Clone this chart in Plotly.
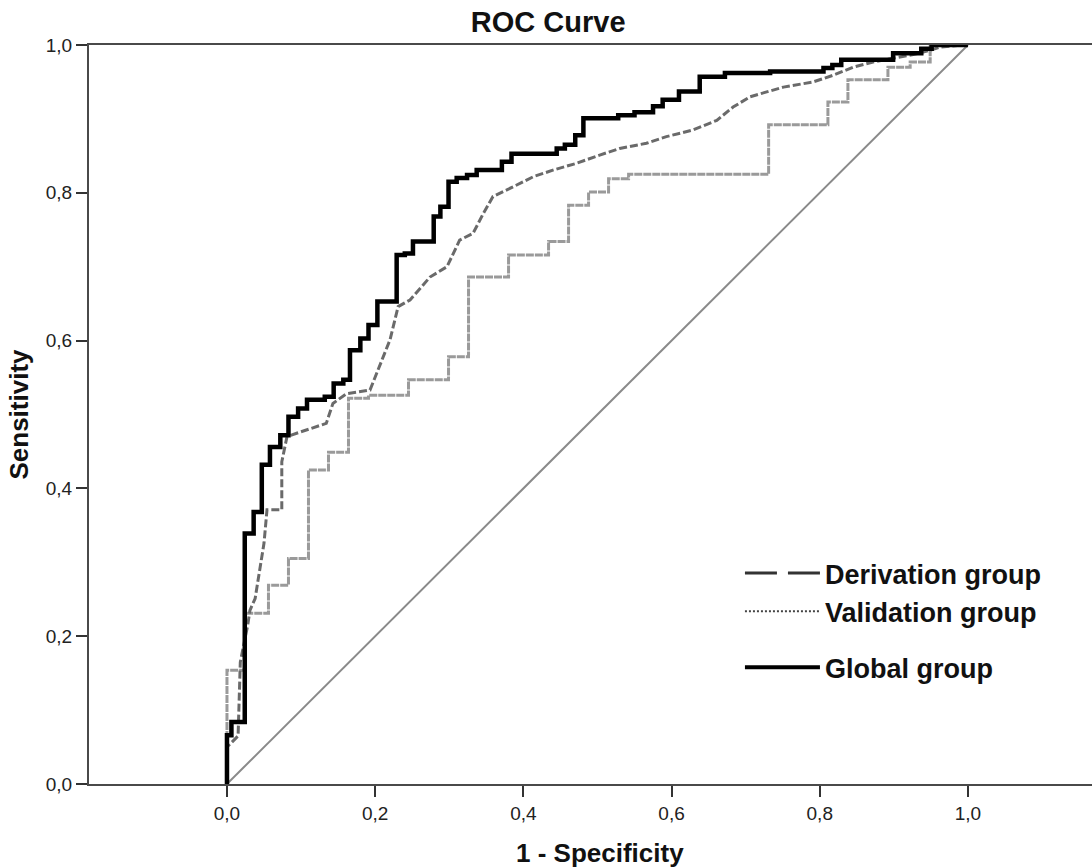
import plotly.graph_objects as go

# ---- data ----
global_fpr = [0, 0, 0.006, 0.024, 0.036, 0.047, 0.058, 0.072, 0.083, 0.096,
              0.108, 0.132, 0.144, 0.157, 0.166, 0.180, 0.191, 0.203, 0.229, 0.240,
              0.251, 0.279, 0.288, 0.299, 0.310, 0.324, 0.337, 0.371, 0.384, 0.445,
              0.456, 0.470, 0.481, 0.528, 0.550, 0.575, 0.588, 0.610, 0.638, 0.672,
              0.733, 0.805, 0.817, 0.829, 0.899, 0.937, 0.951, 1.0]
global_tpr = [0, 0.066, 0.084, 0.339, 0.368, 0.432, 0.456, 0.472, 0.497, 0.508,
              0.520, 0.524, 0.542, 0.547, 0.587, 0.603, 0.621, 0.653, 0.716, 0.718,
              0.734, 0.768, 0.781, 0.815, 0.820, 0.824, 0.831, 0.842, 0.853, 0.860,
              0.865, 0.878, 0.901, 0.905, 0.909, 0.917, 0.926, 0.937, 0.957, 0.962,
              0.964, 0.969, 0.973, 0.980, 0.989, 0.995, 1.0, 1.0]

deriv_fpr = [0, 0, 0.015, 0.018, 0.028, 0.031, 0.038, 0.044, 0.050, 0.054,
             0.074, 0.074, 0.081, 0.095, 0.134, 0.143, 0.161, 0.193, 0.207, 0.220,
             0.231, 0.247, 0.274, 0.297, 0.314, 0.332, 0.346, 0.359, 0.386, 0.414,
             0.441, 0.472, 0.503, 0.530, 0.566, 0.593, 0.629, 0.661, 0.683, 0.706,
             0.751, 0.791, 0.818, 0.845, 0.872, 0.899, 0.926, 0.949, 0.962, 0.993, 1.0]
deriv_tpr = [0, 0.050, 0.065, 0.165, 0.215, 0.235, 0.251, 0.287, 0.326, 0.371,
             0.371, 0.436, 0.470, 0.475, 0.488, 0.515, 0.528, 0.533, 0.569, 0.601,
             0.646, 0.655, 0.686, 0.700, 0.736, 0.745, 0.772, 0.795, 0.808, 0.822,
             0.831, 0.840, 0.851, 0.860, 0.867, 0.876, 0.885, 0.898, 0.916, 0.930,
             0.943, 0.950, 0.959, 0.970, 0.977, 0.982, 0.987, 0.993, 0.997, 1.0, 1.0]

valid_fpr = [0, 0, 0.025, 0.056, 0.083, 0.110, 0.137, 0.164, 0.191, 0.245,
             0.299, 0.326, 0.380, 0.434, 0.461, 0.488, 0.515, 0.542, 0.731, 0.811,
             0.838, 0.892, 0.922, 0.949, 1.0]
valid_tpr = [0, 0.154, 0.231, 0.269, 0.305, 0.425, 0.449, 0.522, 0.526, 0.547,
             0.578, 0.686, 0.716, 0.734, 0.783, 0.801, 0.819, 0.825, 0.892, 0.923,
             0.953, 0.970, 0.977, 1.0, 1.0]

ref_fpr = [0.0, 1.0]
ref_tpr = [0.0, 1.0]

tick_vals = [0.0, 0.2, 0.4, 0.6, 0.8, 1.0]
tick_text = ["0,0", "0,2", "0,4", "0,6", "0,8", "1,0"]

series_names = ["Derivation group", "Validation group", "Global group"]

FONT = "Liberation Sans, Arial, sans-serif"

fig = go.Figure()

# reference diagonal
fig.add_trace(go.Scatter(x=ref_fpr, y=ref_tpr, mode="lines",
                         line=dict(color="#8a8a8a", width=2),
                         showlegend=False, hoverinfo="skip"))
# validation (lower, light gray dotted)
fig.add_trace(go.Scatter(x=valid_fpr, y=valid_tpr, mode="lines",
                         line=dict(color="#9a9a9a", width=3, dash="8px,1px", shape="hv"),
                         showlegend=False, name=series_names[1]))
# derivation (middle, gray dashed)
fig.add_trace(go.Scatter(x=deriv_fpr, y=deriv_tpr, mode="lines",
                         line=dict(color="#6a6a6a", width=3, dash="8px,3px"),
                         showlegend=False, name=series_names[0]))
# global (black solid)
fig.add_trace(go.Scatter(x=global_fpr, y=global_tpr, mode="lines",
                         line=dict(color="#000000", width=4.5, shape="hv"),
                         showlegend=False, name=series_names[2]))

# legend entries
fig.add_trace(go.Scatter(x=[None], y=[None], mode="lines", name=series_names[0],
                         legendgroup="a",
                         line=dict(color="#333333", width=3, dash="32px,11px")))
fig.add_trace(go.Scatter(x=[None], y=[None], mode="lines", name=series_names[1],
                         legendgroup="a",
                         line=dict(color="#444444", width=2, dash="2px,2px")))
fig.add_trace(go.Scatter(x=[None], y=[None], mode="lines", name=series_names[2],
                         legendgroup="b",
                         line=dict(color="#000000", width=4)))

axis_common = dict(showgrid=False, zeroline=False, showline=True,
                   linecolor="#4a4a4a", linewidth=2,
                   ticks="outside", ticklen=11, tickwidth=2, tickcolor="#333333",
                   tickfont=dict(family=FONT, size=19, color="#222222"))

fig.update_layout(
    width=1092, height=867,
    margin=dict(l=89, r=0, t=45, b=83),
    paper_bgcolor="white", plot_bgcolor="white",
    title=dict(text="ROC Curve", x=0.502, xanchor="center", y=0.975, yanchor="middle",
               font=dict(family=FONT, size=29, color="#111111", weight="bold")),
    xaxis=dict(range=[-0.1862, 1.1674], tickvals=tick_vals, ticktext=tick_text,
               mirror=True, **axis_common),
    yaxis=dict(range=[0, 1], tickvals=tick_vals, ticktext=tick_text,
               title=dict(text="Sensitivity", standoff=10,
                          font=dict(family=FONT, size=26, color="#111111", weight="bold")),
               **axis_common),
    legend=dict(x=0.649, y=0.318, xanchor="left", yanchor="top",
                bgcolor="rgba(0,0,0,0)", itemwidth=75, tracegroupgap=18,
                traceorder="grouped",
                font=dict(family=FONT, size=27, color="#111111", weight="bold")),
    annotations=[dict(text="1 - Specificity", xref="paper", yref="paper",
                      x=0.509, y=-0.093, xanchor="center", yanchor="middle",
                      showarrow=False,
                      font=dict(family=FONT, size=26, color="#111111", weight="bold"))],
)

fig.write_html("out.html", config={"displayModeBar": False},
               post_script="document.body.style.margin='0';")
